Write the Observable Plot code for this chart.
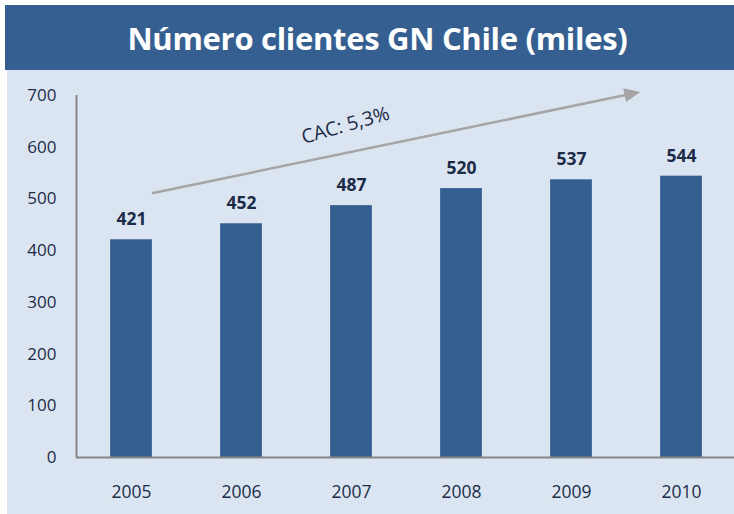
<!DOCTYPE html>
<html>
<head>
<meta charset="utf-8">
<script src="https://cdn.jsdelivr.net/npm/d3@7"></script>
<script src="https://cdn.jsdelivr.net/npm/@observablehq/plot@0.6"></script>
<style>
  html, body { margin: 0; padding: 0; background: #ffffff; }
  #wrap { position: relative; width: 734px; height: 514px; overflow: hidden; background: #fff; }
  #title {
    position: absolute; left: 5px; top: 5px; width: 729px; height: 65px; box-sizing: border-box; padding-left: 16px;
    background: #365f91; color: #ffffff;
    font-family: "Open Sans", sans-serif; font-weight: 700; font-size: 31px;
    display: flex; align-items: center; justify-content: center; letter-spacing: -0.3px;
  }
  #chart { position: absolute; left: 7px; top: 70px; width: 727px; height: 444px; background: #dbe5f1; }
</style>
</head>
<body>
<div id="wrap">
  <div id="title">Número clientes GN Chile (miles)</div>
  <div id="chart"></div>
</div>
<script>
const years = [2005, 2006, 2007, 2008, 2009, 2010];
const clientes = [421, 452, 487, 520, 537, 544];
const yTicks = [0, 100, 200, 300, 400, 500, 600, 700];
// annotation arrow (data coordinates)
const arrowFrom = [2005.19, 510];
const arrowTo = [2009.63, 706];
const cacLabel = "CAC: 5,3%";
const cacPos = [2006.945, 642];

const data = years.map((y, i) => ({year: y, value: clientes[i]}));
const halfBar = 0.19;
const textColor = "#1c2b48";

function arrowMark(index, scales) {
  const ns = "http://www.w3.org/2000/svg";
  const g = document.createElementNS(ns, "g");
  const x1 = scales.x(arrowFrom[0]), y1 = scales.y(arrowFrom[1]);
  const x2 = scales.x(arrowTo[0]), y2 = scales.y(arrowTo[1]);
  const ang = Math.atan2(y2 - y1, x2 - x1);
  const L = 16, W = 7;
  const bx = x2 - L * Math.cos(ang), by = y2 - L * Math.sin(ang);
  const line = document.createElementNS(ns, "line");
  line.setAttribute("x1", x1); line.setAttribute("y1", y1);
  line.setAttribute("x2", bx + 1 * Math.cos(ang)); line.setAttribute("y2", by + 1 * Math.sin(ang));
  line.setAttribute("stroke", "#a5a5a5"); line.setAttribute("stroke-width", 2.5);
  g.appendChild(line);
  const px = -Math.sin(ang), py = Math.cos(ang);
  const tri = document.createElementNS(ns, "polygon");
  tri.setAttribute("points", `${x2},${y2} ${bx + W * px},${by + W * py} ${bx - W * px},${by - W * py}`);
  tri.setAttribute("fill", "#a5a5a5");
  g.appendChild(tri);
  return g;
}

const chart = Plot.plot({
  width: 727,
  height: 444,
  marginLeft: 69,
  marginRight: 0,
  marginTop: 25,
  marginBottom: 57,
  style: {background: "transparent", fontFamily: "Open Sans, sans-serif", color: textColor, overflow: "visible"},
  x: {domain: [2004.5, 2010.5], range: [69, 729], label: null},
  y: {domain: [0, 700], label: null},
  marks: [
    Plot.rectY(data, {x1: d => d.year - halfBar, x2: d => d.year + halfBar, y1: 0, y2: "value", fill: "#365f91"}),
    Plot.axisY({ticks: yTicks, tickSize: 0, tickPadding: 20, fontSize: 17, fill: textColor, label: null, tickFormat: d => String(d)}),
    Plot.axisX({ticks: years, tickSize: 0, tickPadding: 28, fontSize: 17.5, fill: textColor, label: null, tickFormat: d => String(d)}),
    Plot.ruleX([2004.5], {y1: 0, y2: 700, stroke: "#868686", strokeWidth: 2}),
    Plot.ruleY([0], {x1: 2004.5, x2: 2010.5, stroke: "#868686", strokeWidth: 2}),
    Plot.text(data, {x: "year", y: "value", text: d => String(d.value), dy: -20, fontSize: 17.5, fontWeight: "bold", fill: textColor}),
    arrowMark,
    Plot.text([cacLabel], {x: () => cacPos[0], y: () => cacPos[1], text: d => d, rotate: -16, fontSize: 19.5, fill: textColor})
  ]
});
document.getElementById("chart").appendChild(chart);
</script>
</body>
</html>
